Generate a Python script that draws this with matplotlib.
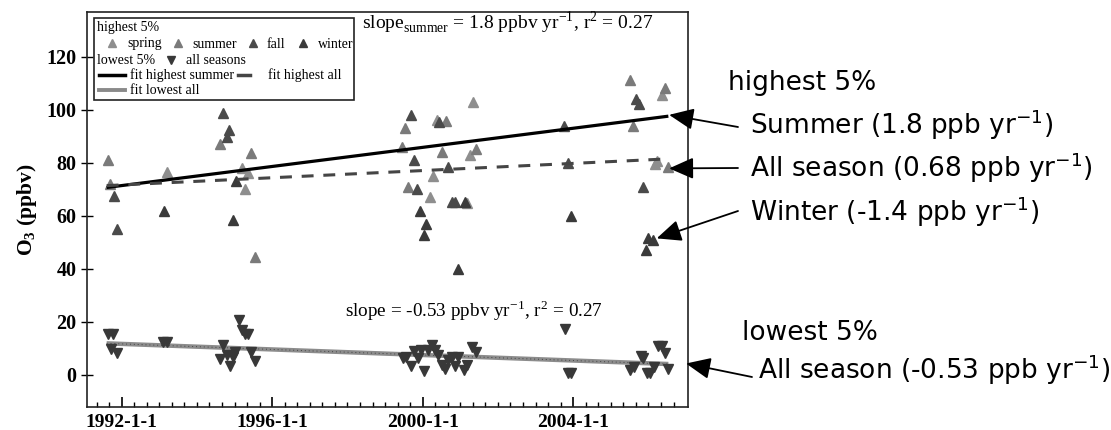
import matplotlib
matplotlib.use("Agg")
import matplotlib.pyplot as plt
from matplotlib.lines import Line2D
from matplotlib.patches import Rectangle

plt.rcParams['font.family'] = ['Liberation Serif', 'DejaVu Serif']
plt.rcParams['mathtext.fontset'] = 'custom'
plt.rcParams['mathtext.rm'] = 'Liberation Serif'
plt.rcParams['mathtext.bf'] = 'Liberation Serif:bold'
plt.rcParams['mathtext.sf'] = 'DejaVu Sans'

# ---------------- data (decimal year, ppbv) ----------------
spring_x = [1993.20, 1995.19, 1995.37, 1995.28, 2000.19, 2000.28, 2000.37, 2001.19,
            2001.34, 2001.27, 2006.35, 2006.22, 2006.17]
spring_y = [76.3, 77.8, 75.9, 70.0, 67.1, 74.9, 96.0, 64.8, 102.9, 82.8, 105.5, 80.6, 79.3]

summer_x = [1991.63, 1991.69, 1994.61, 1995.44, 1995.54, 1999.53, 1999.44, 1999.62,
            2000.62, 2000.52, 2001.43, 2005.50, 2005.59, 2006.44, 2006.51]
summer_y = [80.9, 71.9, 86.9, 83.7, 44.5, 93.1, 85.7, 70.9, 95.8, 84.1, 85.0, 111.1, 93.9,
            108.0, 78.4]

fall_x = [1991.80, 1991.87, 1994.70, 1994.86, 1994.79, 1999.69, 1999.78, 1999.86, 2000.44,
          2000.68, 2000.77, 2000.86, 2003.76, 2003.85, 2005.68, 2005.76, 2005.86]
fall_y = [67.5, 54.8, 98.8, 92.3, 89.7, 97.9, 80.9, 69.9, 95.4, 78.2, 65.2, 65.2, 93.9, 79.7,
          103.8, 102.0, 70.6]

winter_x = [1993.12, 1995.04, 1994.95, 1999.93, 2000.10, 2000.03, 2001.12, 2000.93, 2003.94,
            2005.99, 2006.11, 2005.93]
winter_y = [61.8, 73.1, 58.3, 61.8, 56.7, 52.6, 65.2, 39.8, 59.8, 51.4, 50.8, 47.2]

low_x = [1991.63, 1991.78, 1991.71, 1991.87, 1993.10, 1993.21, 1994.70, 1994.61, 1994.79,
         1994.88, 1994.95, 1995.01, 1995.12, 1995.19, 1995.28, 1995.36, 1995.45, 1995.54,
         1999.49, 1999.57, 1999.69, 1999.78, 1999.87, 1999.95, 2000.04, 2000.13, 2000.24,
         2000.33, 2000.41, 2000.52, 2000.59, 2000.68, 2000.79, 2000.86, 2000.95, 2001.10,
         2001.17, 2001.32, 2001.43, 2003.78, 2003.85, 2003.94, 2005.51, 2005.62, 2005.80,
         2005.86, 2005.95, 2006.04, 2006.15, 2006.26, 2006.35, 2006.44, 2006.53]
low_y = [15.5, 15.2, 9.5, 8.2, 12.4, 12.4, 11.1, 5.8, 7.4, 3.2, 6.7, 8.6, 20.6, 16.8, 15.5,
         15.5, 8.6, 5.2, 6.1, 6.7, 3.2, 9.0, 6.1, 9.2, 1.4, 9.2, 11.1, 9.2, 7.4, 3.6, 2.3, 5.5,
         6.7, 3.2, 6.7, 1.7, 3.6, 10.3, 8.6, 17.1, 0.7, 0.7, 1.7, 2.7, 7.0, 6.1, 0.5, 0.5, 2.9,
         10.8, 10.8, 8.0, 2.3]

# fit lines: start / end year and value
fit_years = [1991.60, 2006.53]
fit_summer = [70.6, 97.5]
fit_high_all = [71.3, 81.4]
fit_low_all = [11.8, 4.0]

tick_years = [1992, 1996, 2000, 2004]
tick_labels = ['1992-1-1', '1996-1-1', '2000-1-1', '2004-1-1']
ytick_vals = [0, 20, 40, 60, 80, 100, 120]

# ---------------- figure ----------------
W, H = 1111, 430
fig = plt.figure(figsize=(W / 100, H / 100), dpi=100)
ax = fig.add_axes([86.7 / W, 1 - 406.7 / H, (688.3 - 86.7) / W, (406.7 - 12) / H])

c_spring, c_summer, c_fall, c_winter, c_low = '#8e8e8e', '#7a7a7a', '#4a4a4a', '#3a3a3a', '#383838'
ms = 7
ax.plot(fit_years, fit_low_all, color='#8c8c8c', lw=3.2, solid_capstyle='butt', zorder=2)
ax.plot(fit_years, fit_low_all, color='#444444', lw=0.7, ls=(0, (1, 3)), zorder=2.1)

for xs, ys, c in [(spring_x, spring_y, c_spring), (summer_x, summer_y, c_summer),
                  (fall_x, fall_y, c_fall), (winter_x, winter_y, c_winter)]:
    ax.plot(xs, ys, ls='none', marker='^', ms=ms, color=c, mec=c, zorder=3)
ax.plot(low_x, low_y, ls='none', marker='v', ms=ms, color=c_low, mec=c_low, zorder=3)

ax.plot(fit_years, fit_summer, color='black', lw=2.3, solid_capstyle='butt', zorder=4)
l2, = ax.plot(fit_years, fit_high_all, color='#454545', lw=2.2, zorder=4)
l2.set_dashes((3.9, 3.2))

ax.set_xlim(1991.07, 2007.06)
ax.set_ylim(-12.1, 136.8)
ax.set_xticks(tick_years)
ax.set_xticklabels(tick_labels)
ax.set_xticks([1991 + k / 3 for k in range(1, 48)], minor=True)
ax.set_yticks(ytick_vals)
ax.tick_params(axis='x', which='major', direction='in', length=7, width=1.2, labelsize=14,
               pad=5, top=False)
ax.tick_params(axis='x', which='minor', direction='in', length=3.5, width=1.0, top=False)
ax.tick_params(axis='y', direction='inout', length=8, width=1.0, labelsize=14.5, right=False)
for lab in ax.get_xticklabels() + ax.get_yticklabels():
    lab.set_fontweight('bold')
for s in ax.spines.values():
    s.set_linewidth(1.2)
    s.set_color('#222222')
ax.set_ylabel('O$_{\\mathbf{3}}$ (ppbv)', fontsize=15.5, fontweight='bold', labelpad=5)

# ---------------- text inside axes ----------------
def fx(px):
    return px / W

def fy(py):
    return 1 - py / H

fig.text(fx(362), fy(23), 'slope$_{\\mathrm{summer}}$ = 1.8 ppbv yr$^{\\mathrm{-1}}$, r$^{\\mathrm{2}}$ = 0.27',
         fontsize=14, va='center', ha='left')
fig.text(fx(345), fy(311), 'slope = -0.53 ppbv yr$^{\\mathrm{-1}}$, r$^{\\mathrm{2}}$ = 0.27',
         fontsize=13.8, va='center', ha='left')

# ---------------- custom legend ----------------
fig.patches.append(Rectangle((fx(94), fy(100)), (354 - 94) / W, (100 - 18) / H,
                             transform=fig.transFigure, fill=True, facecolor='white',
                             edgecolor='#222222', lw=1.2, zorder=5))
lf = 10
fig.text(fx(97), fy(28), 'highest 5%', fontsize=lf, va='center', zorder=6)
for mx, tx, lab, c in [(112, 127, 'spring', c_spring), (178, 192, 'summer', c_summer),
                       (253, 267, 'fall', c_fall), (303, 318, 'winter', c_winter)]:
    fig.lines.append(Line2D([fx(mx)], [fy(43)], marker='^', ms=6, color=c, mec=c,
                            transform=fig.transFigure, zorder=6))
    fig.text(fx(tx), fy(44), lab, fontsize=lf, va='center', zorder=6)
fig.text(fx(97), fy(60), 'lowest 5%', fontsize=lf, va='center', zorder=6)
fig.lines.append(Line2D([fx(171)], [fy(60)], marker='v', ms=6, color=c_low, mec=c_low,
                        transform=fig.transFigure, zorder=6))
fig.text(fx(186), fy(60), 'all seasons', fontsize=lf, va='center', zorder=6)
fig.lines.append(Line2D([fx(99), fx(125)], [fy(75), fy(75)], color='black', lw=2.5,
                        transform=fig.transFigure, zorder=6))
fig.text(fx(130), fy(75), 'fit highest summer', fontsize=lf, va='center', zorder=6)
fig.lines.append(Line2D([fx(238), fx(250)], [fy(75), fy(75)], color='#454545', lw=2.5,
                        transform=fig.transFigure, zorder=6))
fig.text(fx(268), fy(75), 'fit highest all', fontsize=lf, va='center', zorder=6)
fig.lines.append(Line2D([fx(99), fx(125)], [fy(90), fy(90)], color='#8a8a8a', lw=2.8,
                        transform=fig.transFigure, zorder=6))
fig.text(fx(130), fy(90), 'fit lowest all', fontsize=lf, va='center', zorder=6)

# ---------------- right-side annotations ----------------
sf = 19
sans = ['DejaVu Sans']
fig.text(fx(728), fy(83), 'highest 5%', fontsize=sf, family=sans, va='center')
fig.text(fx(750), fy(125), 'Summer (1.8 ppb yr$^{\\mathsf{-1}}$)', fontsize=sf, family=sans, va='center')
fig.text(fx(750), fy(168), 'All season (0.68 ppb yr$^{\\mathsf{-1}}$)', fontsize=sf, family=sans, va='center')
fig.text(fx(750), fy(212), 'Winter (-1.4 ppb yr$^{\\mathsf{-1}}$)', fontsize=sf, family=sans, va='center')
fig.text(fx(742), fy(333), 'lowest 5%', fontsize=sf, family=sans, va='center')
fig.text(fx(758), fy(370), 'All season (-0.53 ppb yr$^{\\mathsf{-1}}$)', fontsize=sf, family=sans, va='center')

arrow_props = dict(arrowstyle='-|>,head_length=0.5,head_width=0.22', mutation_scale=30,
                   color='black', lw=1.3, shrinkA=0, shrinkB=0)
for tip, start in [((2006.55, 98.0), (738, 127)),
                   ((2006.55, 77.8), (738, 168)),
                   ((2006.22, 51.4), (738, 211)),
                   ((2007.0, 4.2), (752, 377))]:
    ax.annotate('', xy=tip, xycoords='data', xytext=(fx(start[0]), fy(start[1])),
                textcoords='figure fraction', arrowprops=arrow_props, annotation_clip=False)

fig.savefig('out.png', dpi=100)
